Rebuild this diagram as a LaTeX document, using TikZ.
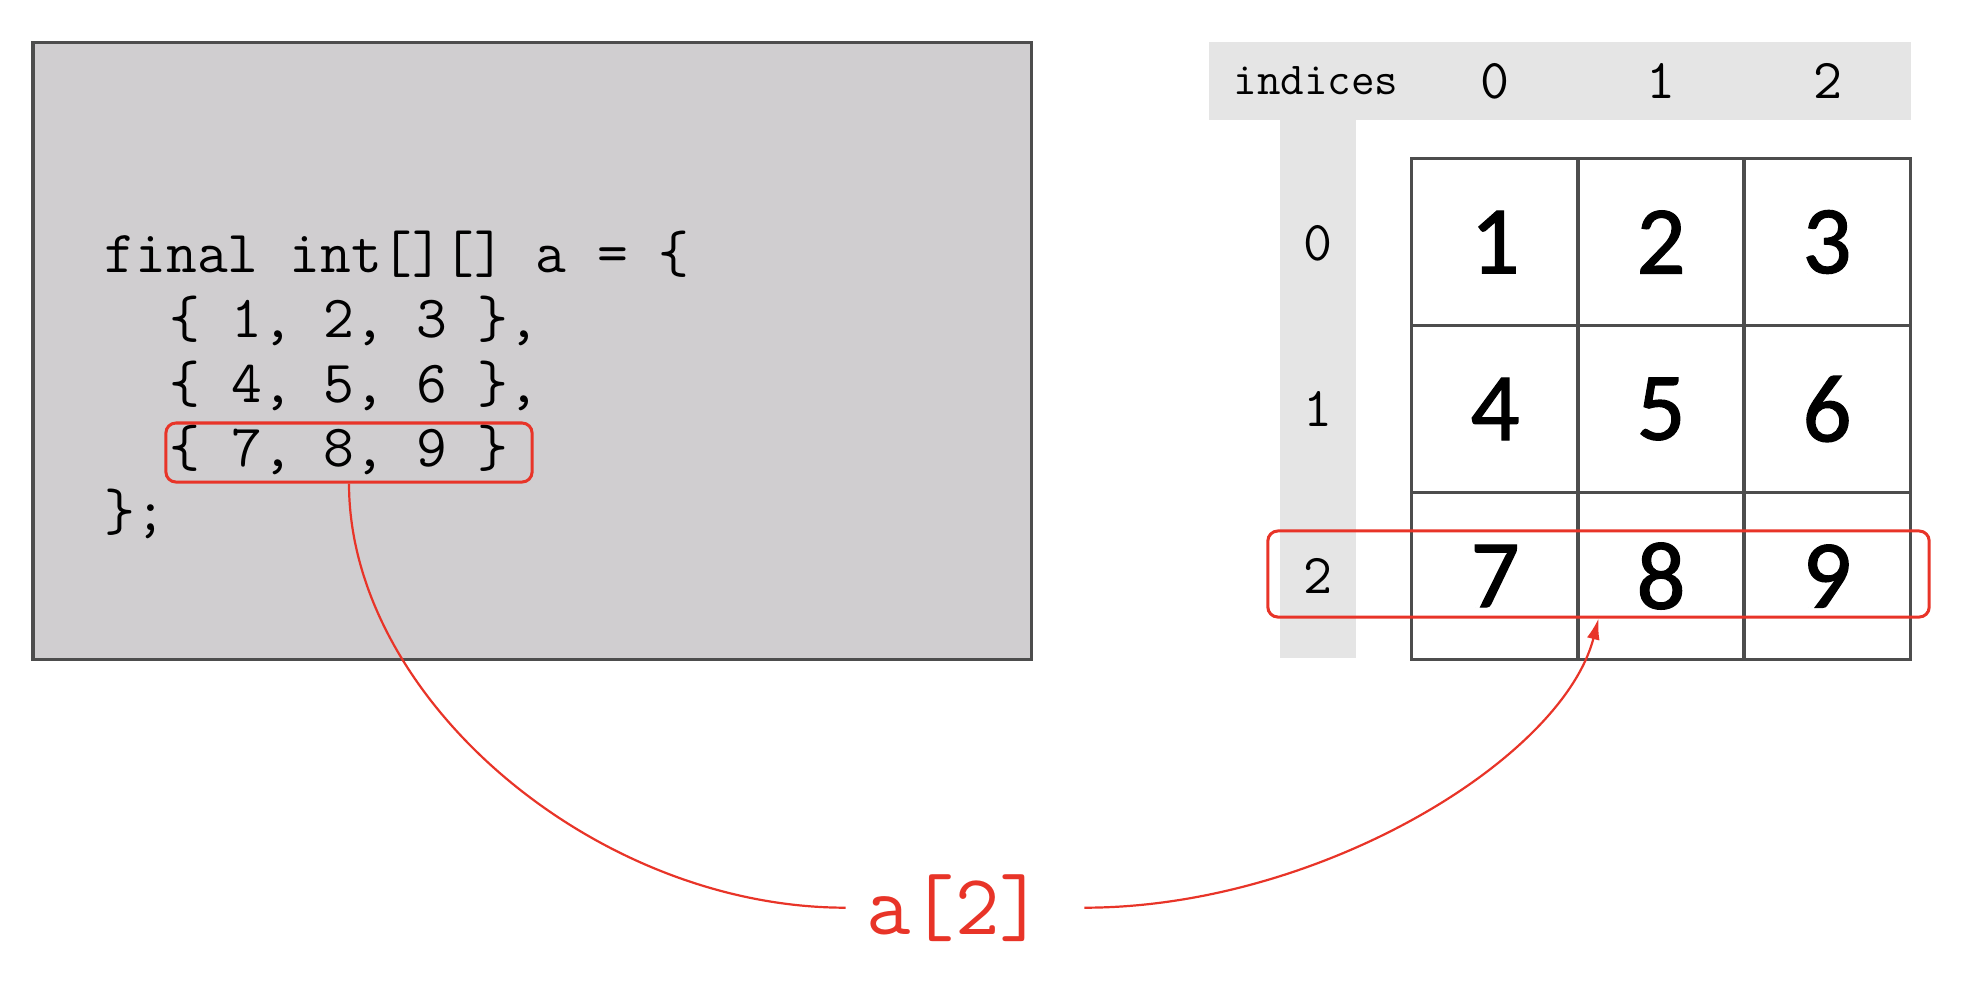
\documentclass[tikz,border=0pt]{standalone}
\usepackage{fontspec}
\usetikzlibrary{arrows.meta}
\newfontfamily\cellfont[FakeBold=1.3]{Carlito}
\definecolor{codegray}{RGB}{208,206,208}
\definecolor{idxgray}{RGB}{229,229,229}
\definecolor{linegray}{RGB}{77,77,77}
\definecolor{hlred}{RGB}{232,52,40}

\begin{document}
\begin{tikzpicture}[x = 0.01cm, y = -0.01cm,
  cell/.style = {draw = linegray, line width = 0.03cm, minimum width = 1.66cm, minimum height = 1.67cm, inner sep = 0pt, font = \cellfont\fontsize{27.5}{30}\selectfont},
  idx/.style = {inner sep = 0pt, font = \ttfamily\fontsize{16}{19}\selectfont},
  code/.style = {anchor = base west, inner sep = 0pt, font = \ttfamily\fontsize{17}{20}\selectfont},
  hl/.style = {draw = hlred, line width = 0.03cm, rounded corners = 0.1cm, inner sep = 0pt},
  link/.style = {hlred, line width = 0.022cm}]
\useasboundingbox (0, 0) rectangle (1970, 996);

% source code
\draw[draw = linegray, fill = codegray, line width = 0.03cm] (33, 42) rectangle (1031, 659);
\node[code] (l1) at (104, 272) {final int[][] a = \{};
\node[code] (l2) at (169, 337) {\{ 1, 2, 3 \},};
\node[code] (l3) at (169, 402) {\{ 4, 5, 6 \},};
\node[code] (l4) at (169, 466) {\{ 7, 8, 9 \}};
\node[code] (l5) at (104, 530) {\};};
\node[hl, minimum width = 3.66cm, minimum height = 0.59cm] (row2code) at (349, 452.5) {};

% index bars
\fill[idxgray] (1209, 42) rectangle (1911, 120);
\fill[idxgray] (1280, 120) rectangle (1356, 658);
\node[idx, font = \ttfamily\fontsize{13}{15}\selectfont] (hdr) at (1316, 81) {indices};
\node[idx] (c0) at (1495, 81) {0};
\node[idx] (c1) at (1661, 81) {1};
\node[idx] (c2) at (1828, 81) {2};
\node[idx] (r0) at (1318, 243) {0};
\node[idx] (r1) at (1318, 409) {1};
\node[idx] (r2) at (1318, 576) {2};

% array cells
\node[cell] (a00) at (1495, 242) {1};
\node[cell] (a01) at (1661, 242) {2};
\node[cell] (a02) at (1827, 242) {3};
\node[cell] (a10) at (1495, 409) {4};
\node[cell] (a11) at (1661, 409) {5};
\node[cell] (a12) at (1827, 409) {6};
\node[cell] (a20) at (1495, 576) {7};
\node[cell] (a21) at (1661, 576) {8};
\node[cell] (a22) at (1827, 576) {9};
\node[hl, minimum width = 6.61cm, minimum height = 0.86cm] (row2grid) at (1598.5, 574) {};

% a[2]
\node[anchor = base, inner xsep = 0.2cm, text = hlred, font = \ttfamily\fontsize{24.5}{28}\selectfont] (acc) at (955, 934) {a[2]};
\draw[link] (row2code.south) .. controls +(0, 215) and +(-250, 0) .. (acc.west);
\draw[link, -{Latex[length = 0.21cm, width = 0.13cm]}] ([xshift = 0.2cm]acc.east) .. controls +(235, 0) and +(-36, 140) .. (row2grid.south);
\end{tikzpicture}
\end{document}
